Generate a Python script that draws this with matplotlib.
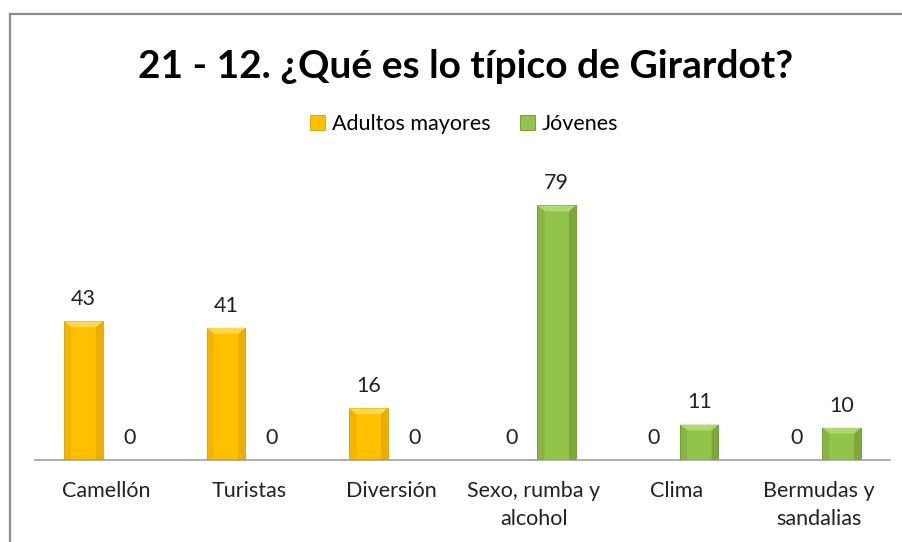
import matplotlib.pyplot as plt
from matplotlib.lines import Line2D
from matplotlib.patches import Polygon
import numpy as np

categorias = ["Camellón", "Turistas", "Diversión", "Sexo, rumba y\nalcohol", "Clima", "Bermudas y\nsandalias"]
adultos = [43, 41, 16, 0, 0, 0]
jovenes = [0, 0, 0, 79, 11, 10]
series = ["Adultos mayores", "Jóvenes"]

colores = ["#FFC000", "#92C34A"]
claros = ["#FFD84D", "#B0D86E"]
oscuros = ["#D9A000", "#6E9330"]

plt.rcParams['font.family'] = ['Lato', 'DejaVu Sans']

fig = plt.figure(figsize=(9.03, 5.42), dpi=100)
ax = fig.add_axes([0.0388, 0.1513, 0.947, 0.535])

x = np.arange(len(categorias))
ancho = 0.27
desp = 0.16

def bisel(bars, claro, oscuro):
    # imitar el bisel de excel
    for b in bars:
        x0, y0 = b.get_x(), b.get_y()
        w, h = b.get_width(), b.get_height()
        if h <= 0:
            continue
        bw = w * 0.18
        bh = min(1.8, h * 0.3)
        ax.add_patch(Polygon([[x0, y0 + h], [x0 + w, y0 + h], [x0 + w - bw, y0 + h - bh], [x0 + bw, y0 + h - bh]],
                             closed=True, color=claro, lw=0, zorder=3))
        ax.add_patch(Polygon([[x0 + w, y0], [x0 + w, y0 + h], [x0 + w - bw, y0 + h - bh], [x0 + w - bw, y0]],
                             closed=True, color=oscuro, lw=0, zorder=3, alpha=0.55))
        ax.add_patch(Polygon([[x0, y0], [x0, y0 + h], [x0 + bw, y0 + h - bh], [x0 + bw, y0]],
                             closed=True, color=oscuro, lw=0, zorder=3, alpha=0.3))

valores = [adultos, jovenes]
for i, vals in enumerate(valores):
    pos = x - desp if i == 0 else x + desp
    bars = ax.bar(pos, vals, ancho, color=colores[i], edgecolor=oscuros[i], linewidth=0.6,
                  label=series[i], zorder=2)
    bisel(bars, claros[i], oscuros[i])
    for p, v in zip(pos, vals):
        ax.annotate(str(v), (p, v), xytext=(0, 16), textcoords="offset points",
                    ha="center", va="center", fontsize=15.5, color="#222222")

ax.set_xlim(-0.5, 5.5)
ax.set_ylim(0, 90)
ax.set_xticks(x)
ax.set_xticklabels(categorias, fontsize=15.5, color="#222222", linespacing=1.5)
ax.tick_params(axis="x", length=0, pad=15)
ax.set_yticks([])
for s in ["top", "right", "left"]:
    ax.spines[s].set_visible(False)
ax.spines["bottom"].set_color("#A0A0A0")
ax.spines["bottom"].set_linewidth(1.2)

fig.suptitle("21 - 12. ¿Qué es lo típico de Girardot?", x=0.516, y=1 - 66 / 542, va="center",
             fontsize=28, fontweight="bold", color="black")

fig.legend(loc="center", bbox_to_anchor=(0.514, 1 - 124 / 542), ncol=2, frameon=False, fontsize=15.5,
           handlelength=0.7, handleheight=0.7, handletextpad=0.3, columnspacing=1.4)

# borde del grafico
fig.add_artist(Line2D([10 / 903, 10 / 903], [0, 1 - 14 / 542], color="#8C8C8C", lw=1.6))
fig.add_artist(Line2D([10 / 903, 1], [1 - 14 / 542, 1 - 14 / 542], color="#8C8C8C", lw=1.6))

fig.savefig("out.png", dpi=100)
